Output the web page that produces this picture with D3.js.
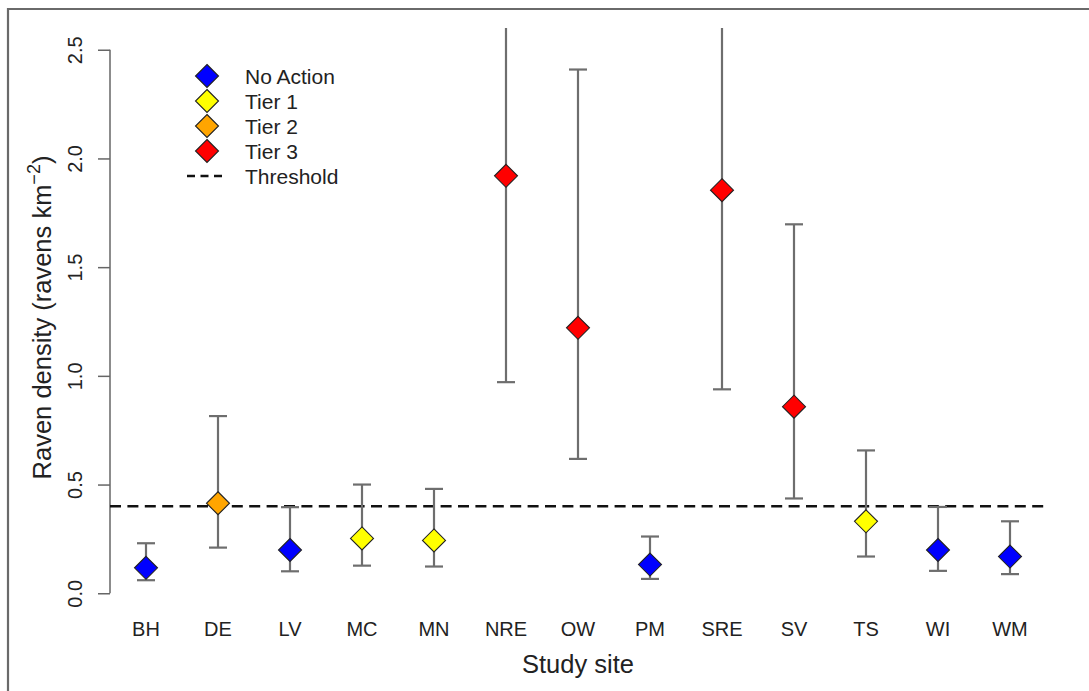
<!DOCTYPE html>
<html>
<head>
<meta charset="utf-8">
<script src="https://cdn.jsdelivr.net/npm/d3@7"></script>
<style>
  html, body { margin: 0; padding: 0; background: #fff; }
  svg { display: block; font-family: "Liberation Sans", Arial, sans-serif; }
</style>
</head>
<body>
<svg id="chart" width="1089" height="691"></svg>
<script>
const sites = ["BH","DE","LV","MC","MN","NRE","OW","PM","SRE","SV","TS","WI","WM"];
const density = [0.117,0.414,0.199,0.252,0.243,1.920,1.221,0.132,1.854,0.858,0.331,0.199,0.169];
const lower   = [0.060,0.210,0.101,0.127,0.123,0.971,0.618,0.066,0.938,0.436,0.169,0.103,0.088];
const upper   = [0.230,0.815,0.396,0.500,0.480,3.800,2.409,0.261,3.650,1.697,0.657,0.397,0.331];
const tier    = ["No Action","Tier 2","No Action","Tier 1","Tier 1","Tier 3","Tier 3","No Action","Tier 3","Tier 3","Tier 1","No Action","No Action"];
const tierNames = ["No Action","Tier 1","Tier 2","Tier 3"];
const tierColors = ["#0000ff","#ffff00","#ffa500","#ff0000"];
const threshold = 0.4;
const yTicks = [0.0,0.5,1.0,1.5,2.0,2.5];

const svg = d3.select("#chart");
const plot = {left:110, right:1046, top:28, bottom:615};

const x = d3.scaleBand().domain(sites).range([plot.left, plot.right]).padding(0);
const y = d3.scaleLinear().domain([-0.1, 2.6]).range([plot.bottom, plot.top]);
const color = d3.scaleOrdinal().domain(tierNames).range(tierColors);
const cx = s => x(s) + x.bandwidth()/2;

// outer frame (top and left)
svg.append("path").attr("d","M8,691 L8,9 L1089,9")
  .attr("fill","none").attr("stroke","#6a6a6a").attr("stroke-width",2.2);

svg.append("defs").append("clipPath").attr("id","clip")
  .append("rect").attr("x",plot.left).attr("y",plot.top)
  .attr("width",plot.right-plot.left).attr("height",plot.bottom-plot.top);

// y axis
const yAxis = d3.axisLeft(y).tickValues(yTicks).tickFormat(d3.format(".1f")).tickSize(12).tickSizeOuter(0);
const gy = svg.append("g").attr("transform",`translate(${plot.left},0)`).call(yAxis);
gy.select(".domain").attr("stroke","#666").attr("stroke-width",1.5)
  .attr("d",`M0,${y(0)}V${y(2.5)}`);
gy.selectAll(".tick line").attr("stroke","#666").attr("stroke-width",1.5);
gy.selectAll(".tick text")
  .attr("font-size",20).attr("fill","#222")
  .attr("x",0).attr("dy",0)
  .attr("text-anchor","middle")
  .attr("transform","translate(-28,0) rotate(-90)");

// x axis labels
const xAxis = d3.axisBottom(x).tickSize(0);
const gx = svg.append("g").attr("transform",`translate(0,${plot.bottom})`).call(xAxis);
gx.select(".domain").remove();
gx.selectAll(".tick text").attr("font-size",20).attr("fill","#222").attr("y",21).attr("dy",0);

// threshold
svg.append("line").attr("x1",plot.left).attr("x2",plot.right)
  .attr("y1",y(threshold)).attr("y2",y(threshold))
  .attr("stroke","#111").attr("stroke-width",2.6).attr("stroke-dasharray","11,6.4");

const data = sites.map((s,i)=>({s, v:density[i], lo:lower[i], hi:upper[i], t:tier[i]}));

// error bars
const eb = svg.append("g").attr("clip-path","url(#clip)");
const capW = 9;
data.forEach(d=>{
  const g = eb.append("g").attr("stroke","#6e6e6e").attr("stroke-width",2.2);
  g.append("line").attr("x1",cx(d.s)).attr("x2",cx(d.s)).attr("y1",y(d.lo)).attr("y2",y(d.hi));
  g.append("line").attr("x1",cx(d.s)-capW).attr("x2",cx(d.s)+capW).attr("y1",y(d.lo)).attr("y2",y(d.lo));
  g.append("line").attr("x1",cx(d.s)-capW).attr("x2",cx(d.s)+capW).attr("y1",y(d.hi)).attr("y2",y(d.hi));
});

const r = 11.5;
const diamond = `M0,${-r}L${r},0L0,${r}L${-r},0Z`;
svg.append("g").selectAll("path").data(data).join("path")
  .attr("d",diamond)
  .attr("transform",d=>`translate(${cx(d.s)},${y(d.v)})`)
  .attr("fill",d=>color(d.t)).attr("stroke","#222").attr("stroke-width",1.1);

// legend
const lg = svg.append("g");
tierNames.forEach((t,i)=>{
  const yy = 76 + i*25;
  lg.append("path").attr("d",diamond).attr("transform",`translate(207,${yy})`)
    .attr("fill",color(t)).attr("stroke","#222").attr("stroke-width",1.1);
  lg.append("text").attr("x",245).attr("y",yy+7.5).attr("font-size",21).attr("fill","#222").text(t);
});
lg.append("line").attr("x1",187).attr("x2",222).attr("y1",176).attr("y2",176)
  .attr("stroke","#111").attr("stroke-width",2.6).attr("stroke-dasharray","8,5.5");
lg.append("text").attr("x",245).attr("y",183.5).attr("font-size",21).attr("fill","#222").text("Threshold");

// axis titles
svg.append("text").attr("x",(plot.left+plot.right)/2).attr("y",673)
  .attr("text-anchor","middle").attr("font-size",25.5).attr("fill","#222").text("Study site");

const yt = svg.append("text").attr("text-anchor","middle").attr("font-size",25.5).attr("fill","#222")
  .attr("transform",`translate(51,${(plot.top+plot.bottom)/2 - 4}) rotate(-90)`);
yt.append("tspan").text("Raven density (ravens km");
yt.append("tspan").attr("font-size",18).attr("dy",-11).text("\u22122");
yt.append("tspan").attr("dy",11).text(")");
</script>
</body>
</html>
